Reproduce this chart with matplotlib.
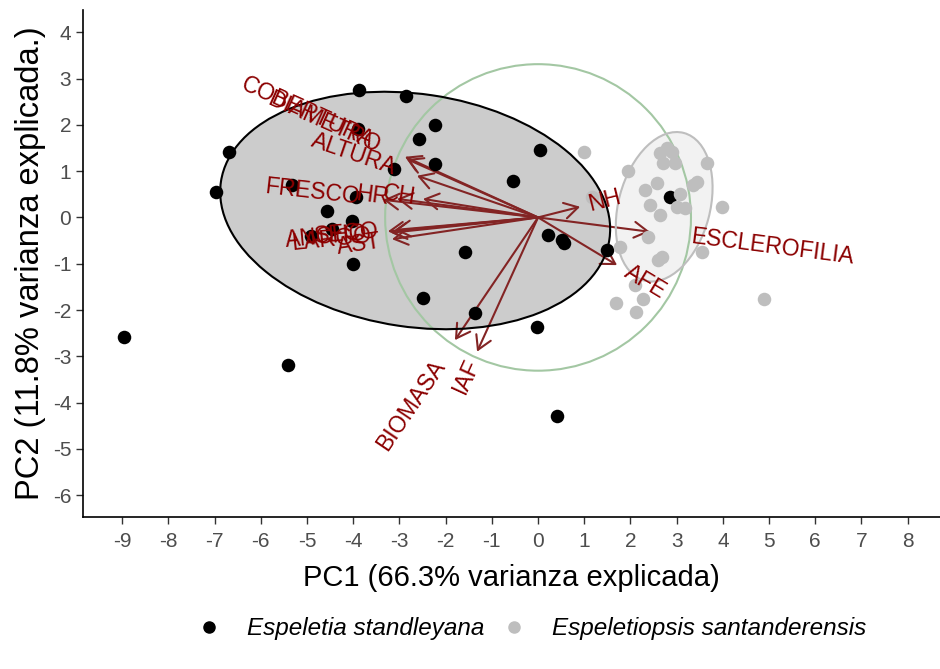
import numpy as np
import matplotlib.pyplot as plt
from matplotlib.patches import Ellipse, Circle
from matplotlib.lines import Line2D
from matplotlib.colors import to_rgba

plt.rcParams['font.family'] = ['Liberation Sans', 'DejaVu Sans']
plt.rcParams['axes.unicode_minus'] = False

# PCA scores of each plant
std_pc1 = [-8.96, -5.41, -6.97, -6.69, -5.32, -4.57, -4.91, -4.46, -4.03, -4.00,
           -3.94, -3.90, -3.87, -2.86, -3.12, -2.58, -2.23, -2.23, -2.49, -1.58,
           -1.36, -0.54, 0.04, 0.22, 0.52, 0.56, -0.02, 0.41, 1.49, 2.86]
std_pc2 = [-2.58, -3.19, 0.55, 1.41, 0.70, 0.14, -0.40, -0.25, -0.08, -1.00,
           0.44, 1.91, 2.75, 2.62, 1.05, 1.70, 2.00, 1.16, -1.74, -0.75,
           -2.06, 0.79, 1.46, -0.38, -0.49, -0.55, -2.37, -4.29, -0.70, 0.44]

san_pc1 = [1.00, 1.95, 2.64, 2.80, 2.90, 2.71, 2.97, 3.66, 2.58, 2.32,
           3.44, 3.35, 3.07, 2.42, 2.64, 3.01, 3.18, 3.98, 1.17, 2.38,
           1.77, 3.55, 2.68, 2.60, 2.10, 2.27, 1.69, 2.12, 4.89]
san_pc2 = [1.41, 1.00, 1.39, 1.50, 1.41, 1.18, 1.18, 1.18, 0.75, 0.59,
           0.77, 0.70, 0.50, 0.27, 0.05, 0.23, 0.21, 0.23, 0.44, -0.42,
           -0.64, -0.75, -0.85, -0.92, -1.46, -1.76, -1.85, -2.04, -1.76]

# variable loadings (arrow ends)
var_names = ['COBERTURA', 'DIAMETRO', 'ALTURA', 'FRESCO', 'HR', 'CH',
             'ANCHO', 'LARGO', 'SECO', 'AST',
             'NH', 'ESCLEROFILIA', 'AFE', 'BIOMASA', 'IAF']
var_pc1 = [-2.88, -2.84, -2.62, -3.35, -3.05, -2.49,
           -3.25, -3.18, -3.10, -3.16,
           0.91, 2.42, 1.71, -1.80, -1.32]
var_pc2 = [1.31, 1.26, 0.90, 0.38, 0.40, 0.40,
           -0.30, -0.33, -0.27, -0.47,
           0.23, -0.31, -1.03, -2.65, -2.90]

# group ellipses: centre, full axes, angle in degrees
ell_x = [-2.66, 2.73]
ell_y = [0.15, 0.23]
ell_w = [8.5, 3.3]
ell_h = [5.03, 1.98]
ell_ang = [-8.4, 75]
circle_r = 3.31

species = ['Espeletia standleyana', 'Espeletiopsis santanderensis']
colors = ['black', '#bebebe']
arrow_col = '#832424'
label_col = '#8b0000'
label_size = 16.5

fig = plt.figure(figsize=(9.4, 6.69), dpi=100)
ax = fig.add_axes([83/940, 152/669, 857/940, 507/669])
ax.set_xlim(-9.85, 8.70)
ax.set_ylim(-6.47, 4.48)

# ellipse fills go underneath, outlines on top of the points
for i in range(2):
    ax.add_patch(Ellipse((ell_x[i], ell_y[i]), ell_w[i], ell_h[i], angle=ell_ang[i],
                         fc=to_rgba(colors[i], 0.2), ec='none', zorder=1))
    ax.add_patch(Ellipse((ell_x[i], ell_y[i]), ell_w[i], ell_h[i], angle=ell_ang[i],
                         fill=False, ec=colors[i], lw=1.5, zorder=4))

# correlation circle and loading arrows
ax.add_patch(Circle((0, 0), circle_r, fill=False, ec='#a3c7a3', lw=1.5, zorder=1.5))
for x, y in zip(var_pc1, var_pc2):
    ax.annotate('', xy=(x, y), xytext=(0, 0),
                arrowprops=dict(arrowstyle='->,head_length=0.65,head_width=0.38',
                                color=arrow_col, lw=1.5, shrinkA=0, shrinkB=0,
                                mutation_scale=15),
                zorder=2)

ax.scatter(std_pc1, std_pc2, s=95, color=colors[0], lw=0, zorder=3)
ax.scatter(san_pc1, san_pc2, s=95, color=colors[1], lw=0, zorder=3)

# variable names along the arrows, pushed out by a quarter of their width
renderer = fig.canvas.get_renderer()
for name, x, y in zip(var_names, var_pc1, var_pc2):
    tmp = ax.text(0, 0, name, fontsize=label_size)
    w = tmp.get_window_extent(renderer).width
    tmp.remove()
    ang = np.degrees(np.arctan(y / x))
    sgn = 1 if x > 0 else -1
    dx = sgn * 0.25 * w * np.cos(np.radians(ang))
    dy = sgn * 0.25 * w * np.sin(np.radians(ang))
    ax.annotate(name, xy=(x, y), xytext=(dx, dy), textcoords='offset pixels',
                rotation=ang, rotation_mode='anchor',
                ha='left' if x > 0 else 'right', va='center',
                fontsize=label_size, color=label_col, zorder=6)

ax.set_xticks(range(-9, 9))
ax.set_yticks(range(-6, 5))
ax.tick_params(labelsize=15, labelcolor='#4d4d4d', color='#333333', length=5, width=1)
ax.tick_params(axis='x', pad=6)
for side in ['top', 'right']:
    ax.spines[side].set_visible(False)
for side in ['left', 'bottom']:
    ax.spines[side].set_linewidth(1.2)
ax.set_xlabel('PC1 (66.3% varianza explicada)', fontsize=21, labelpad=9)
ax.set_ylabel('PC2 (11.8% varianza explicada.)', fontsize=23.5, labelpad=5)

handles = [Line2D([], [], marker='o', ls='', color=c, markersize=8) for c in colors]
fig.legend(handles, species, loc='center', bbox_to_anchor=(0.5655, 0.0605), ncol=2,
           frameon=False, prop={'style': 'italic', 'size': 17.5},
           handlelength=1.0, handletextpad=1.05, columnspacing=0.75)

fig.savefig('out.png', dpi=100)
